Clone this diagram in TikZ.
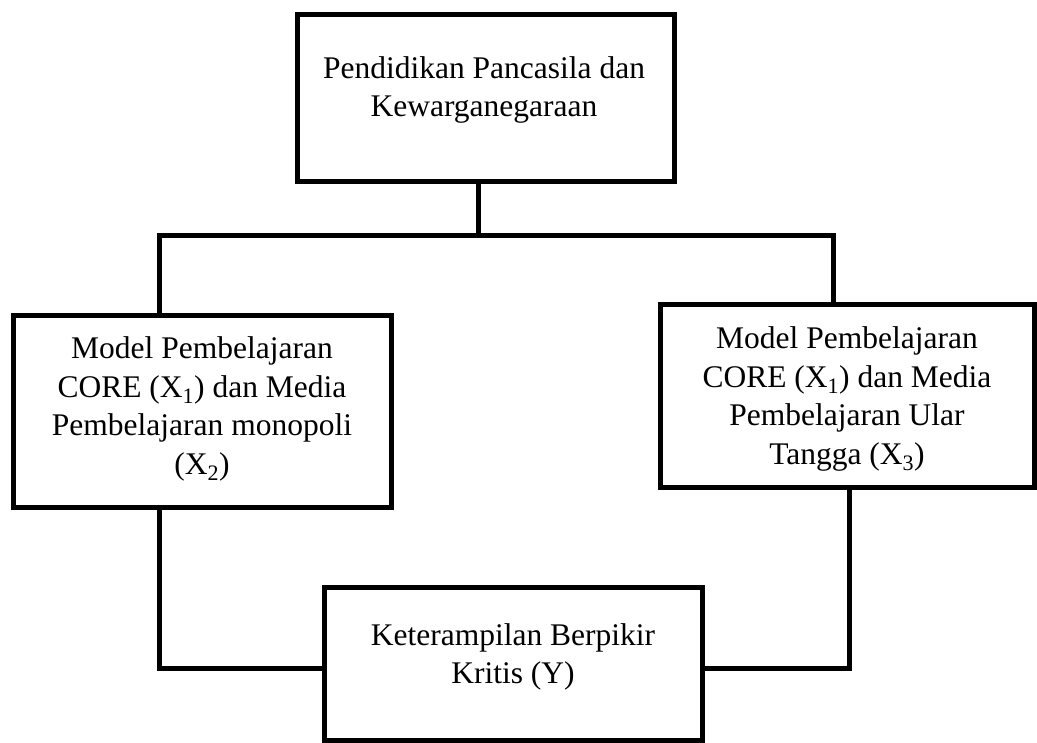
\documentclass[tikz,border=0pt]{standalone}
\usepackage{fontspec}
\setmainfont{Liberation Serif}
\begin{document}
\begin{tikzpicture}[x=1pt,y=-1pt,
  box/.style={draw=black, line width=5pt, rectangle, inner sep=0pt, outer sep=0pt, fill=white},
  txt/.style={align=center, inner sep=0pt, font=\fontsize{31.5}{38.5}\selectfont},
  conn/.style={draw=black, line width=5pt, line join=miter}]
\useasboundingbox (0,0) rectangle (1037,743);
% boxes
\node[box, minimum width=377pt, minimum height=167pt] (top) at (485.5,98.5) {};
\node[box, minimum width=378pt, minimum height=191pt] (left) at (202,411.5) {};
\node[box, minimum width=374pt, minimum height=182pt] (right) at (847,396) {};
\node[box, minimum width=378pt, minimum height=153pt] (bottom) at (513,663.5) {};
% texts
\node[txt] (toptext) at (484,90) {Pendidikan Pancasila dan\\Kewarganegaraan};
\node[txt] (lefttext) at (202,409) {Model Pembelajaran\\CORE (X\textsubscript{1}) dan Media\\Pembelajaran monopoli\\(X\textsubscript{2})};
\node[txt] (righttext) at (847,399) {Model Pembelajaran\\CORE (X\textsubscript{1}) dan Media\\Pembelajaran Ular\\Tangga (X\textsubscript{3})};
\node[txt] (bottomtext) at (513,657) {Keterampilan Berpikir\\Kritis (Y)};
% junctions
\coordinate (j) at (478,236);
\coordinate (bl) at (159,236);
\coordinate (br) at (833,236);
\coordinate (ll) at (159,668);
\coordinate (lr) at (849,668);
% connectors
\draw[conn] (top.south -| j) -- (j);
\draw[conn] (bl |- left.north) -- (bl) -- (br) -- (br |- right.north);
\draw[conn] (ll |- left.south) -- (ll) -- (ll -| bottom.west);
\draw[conn] (lr |- right.south) -- (lr) -- (lr -| bottom.east);
\end{tikzpicture}
\end{document}
